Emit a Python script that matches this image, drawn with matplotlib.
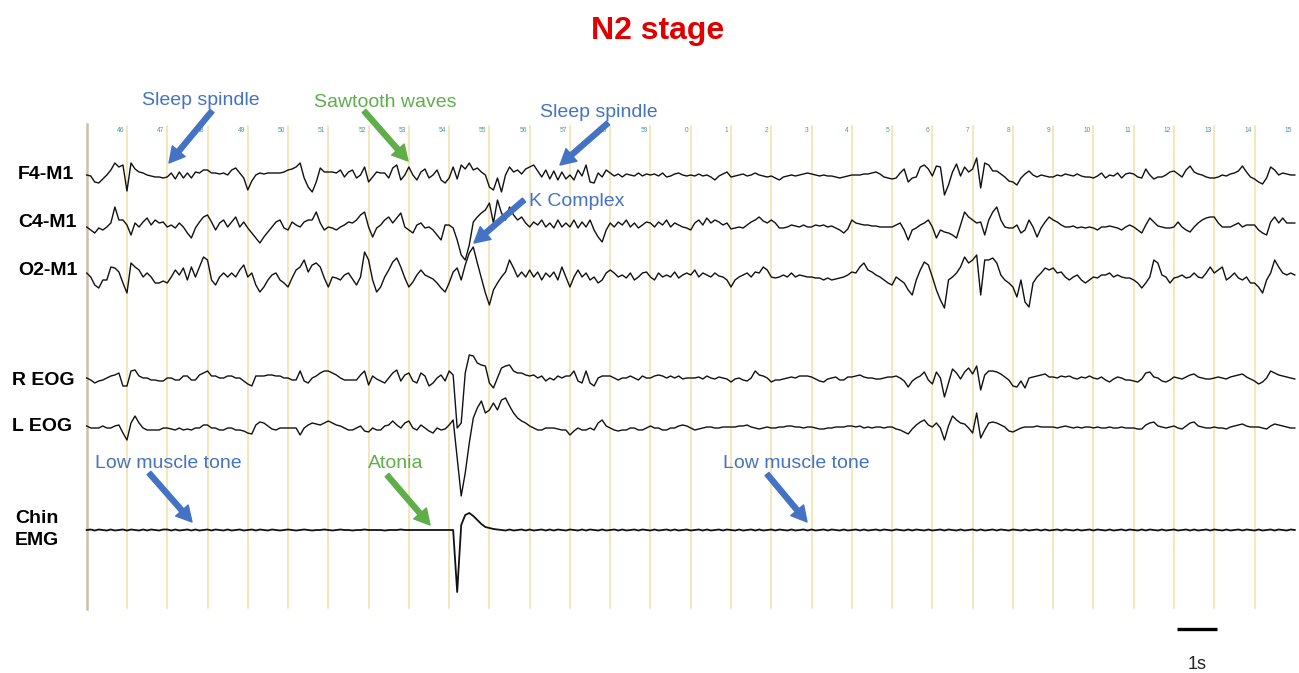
import numpy as np
import matplotlib
matplotlib.use("Agg")
import matplotlib.pyplot as plt

plt.rcParams['font.family'] = ['Liberation Sans', 'DejaVu Sans']

# recording window: seconds 45 .. 75, one value every 0.1 s
# trace values are deflections in screen pixels (positive = up)
T_START = 45.0
T_STEP = 0.1

F4_M1 = [
    0, -1, -7, -8, -4, 0, 5, 12, 8, 10,
    -16, 12, 6, 3, 2, 0, -1, -2, -2, -3,
    -2, 2, -4, 3, -3, 2, -3, 3, 2, 5,
    5, 2, 2, 1, 2, 0, 5, 7, 2, -3,
    -15, -6, 0, 2, 1, 2, 2, 2, 2, 3,
    5, 6, 8, 12, -3, -12, -17, -7, 7, 3,
    3, 3, 2, 5, -2, 3, 5, -3, 0, 8,
    -7, -2, 3, 2, 2, -3, 7, 10, -5, 0,
    8, 0, -5, 3, 6, -3, 0, 5, -5, -8,
    -3, 8, -4, 10, 6, 12, 5, 7, 3, 0,
    -12, -15, -3, -17, 0, 8, 3, 5, 1, 6,
    8, 10, 4, -2, 5, -4, 4, -5, 3, -4,
    0, -5, 5, -1, 10, -7, -8, 2, -2, 5,
    2, -1, 1, -2, 1, 0, -1, 2, -1, 1,
    0, 1, -1, 2, -2, -1, 1, 2, 0, -1,
    0, -1, 1, -1, 0, -2, -5, -1, 1, 3,
    -2, -1, 0, 1, -1, 0, 2, 0, -1, -2,
    -1, -3, -5, -2, -1, 0, -1, 0, 1, 2,
    1, 0, -1, 0, -1, -1, -2, -3, -2, -1,
    0, 0, 0, 1, 1, 2, 3, 1, -2, -3,
    -4, -3, 2, 6, -7, -3, -2, 8, 10, 6,
    -1, 9, 8, -20, -10, 3, 11, -1, 8, 3,
    6, 17, -13, 12, 10, 4, 4, 1, -2, -6,
    -7, -10, -3, 1, 4, 0, -2, 0, -1, -2,
    -2, 0, -1, 1, 0, -1, 1, -1, -2, -2,
    -3, -1, 2, -3, 0, -1, 2, -3, 1, 2,
    1, -2, -3, 6, 0, -4, -2, -2, 0, 3,
    4, 1, -2, 5, 9, 3, 1, 0, -2, -3,
    -3, -2, 0, -1, 1, 2, 4, 9, 3, -2,
    -4, -7, -9, -3, 8, 5, 0, 2, 1, 0,
    0,
]

C4_M1 = [
    -2, -5, -8, -3, -5, -2, 2, 18, 5, 5,
    0, -10, 2, -2, 3, 7, 0, 5, 2, 3,
    -2, 0, -3, 2, -2, -8, -13, -3, 3, 8,
    10, 3, -5, 2, 5, -2, 3, 8, -2, 3,
    -3, -8, -13, -18, -12, -7, -2, 3, 5, -3,
    -5, 3, 0, -2, 3, 5, 5, 13, 2, -5,
    -2, -3, -5, -2, 0, 3, 2, 5, 10, 13,
    -2, -12, -3, 0, 5, 8, 2, 7, 12, -2,
    -5, -8, 0, 2, -3, -2, -5, -10, -15, 0,
    0, -3, -15, -30, -35, -20, 3, 8, 12, 15,
    22, 2, 25, 12, 5, 18, 10, 5, 8, 2,
    -2, 3, 0, 5, -2, 2, -3, 5, -2, 2,
    -2, 5, -3, 3, -2, 5, -5, -12, -17, -5,
    2, -2, 3, 0, 5, -2, 2, -3, 0, 3,
    2, -2, 3, 0, 5, -2, 2, 0, -2, -3,
    -5, 2, 5, 0, 7, 2, 5, 3, 0, 2,
    -4, -3, -2, -3, 0, 3, 5, 8, 4, 2,
    5, 2, -3, -3, -2, 0, -1, -2, 0, -2,
    -2, 0, -1, 0, -2, -1, -3, -5, -8, -4,
    5, 2, 1, 0, 0, -1, -1, -2, -2, -2,
    -2, 0, 2, -5, -15, -5, -3, 0, 2, 5,
    -2, -13, -5, -7, -8, -10, -13, 0, 13, 8,
    5, 2, 3, -10, 5, 13, 18, 5, -2, -3,
    -3, 0, -8, -5, 5, -2, -12, -3, 3, 8,
    5, 3, 0, -2, -2, -1, -3, -2, -3, -2,
    -3, -5, -2, -2, -1, -2, -3, -5, -2, 0,
    -2, -5, -8, 0, 7, 3, -1, -2, -3, -3,
    -2, 3, -2, -5, -7, -2, 2, 5, 7, 8,
    8, 2, -2, -2, -2, 0, 2, -2, 0, 0,
    0, -5, -8, -10, 3, 8, 2, 7, 2, 2,
    2,
]

O2_M1 = [
    2, -2, -10, -13, -5, -5, 8, 7, 3, -8,
    -18, 12, 8, 5, -2, 2, -2, -8, -8, -6,
    -8, -2, 5, 0, 7, -5, 8, -2, 8, 18,
    15, -5, -10, -2, 2, -2, 2, -2, 5, 10,
    -2, 2, -10, -17, -12, -5, 0, 2, -5, -8,
    -12, -3, 5, 8, 15, 3, 10, 12, 8, -3,
    -12, -2, -3, -5, 0, 2, -4, -10, -2, 23,
    15, -5, -17, -12, -2, 5, 13, 17, 8, -3,
    -12, -7, 0, 5, 0, -2, -4, -8, -13, -17,
    -8, 3, 7, -5, 10, 22, 28, 12, -3, -18,
    -30, -15, -8, -2, 3, 15, 7, -2, 3, -2,
    5, -2, 3, -5, 2, -2, 3, -5, 8, -2,
    -12, -2, 5, -2, 2, -5, -2, -8, -5, 2,
    5, 2, -2, 0, -3, 2, -5, -2, 2, 3,
    -2, -5, 2, -2, 0, -2, 3, -3, 0, 2,
    0, 5, -2, 2, 0, -2, 2, -1, -2, -5,
    -12, -5, -2, 0, 2, -2, 3, 2, 8, 5,
    -2, -3, -2, 0, -2, 2, -2, 0, -1, -2,
    -2, -3, -3, -5, -3, -5, -4, -3, -2, 0,
    3, 2, 8, 12, 5, 3, 0, -2, -5, -8,
    -10, -2, -5, -8, -15, -20, -5, 5, 13, 10,
    -2, -15, -25, -33, -5, -2, 2, 8, 18, 12,
    15, 20, -20, 15, 15, 17, 12, 0, -5, -8,
    -12, -22, -5, -27, -32, -8, -2, 2, 7, 5,
    7, 2, 3, -2, -5, -2, 0, -5, -8, -5,
    -2, -3, 0, 0, 2, -2, 0, -2, -3, -3,
    -5, -8, -13, -8, -2, 15, 12, 0, -2, -8,
    -3, -2, 0, -3, -2, 2, -2, -3, 2, 8,
    2, 5, 8, -5, -2, 2, -3, -5, -2, -8,
    -8, -12, -18, -5, 2, 15, 8, 2, 0, 2,
    0,
]

R_EOG = [
    0, -2, -5, -3, -2, 0, 2, 3, 5, -8,
    -8, 7, 8, 2, 0, 0, -2, -2, -3, -3,
    0, 0, -2, -2, 2, 2, -2, -2, 3, 5,
    7, 2, 2, 0, 0, 2, 2, 0, 0, -3,
    -6, -8, 2, 2, 2, 3, 3, 2, 2, 0,
    0, -2, -2, 7, -3, -5, 0, 2, 5, 7,
    7, 5, 3, 0, -2, -2, -2, -2, 3, 7,
    -7, 2, -1, -3, -5, 0, 5, 8, -3, 3,
    5, -3, -5, 5, 2, -8, -5, 0, 3, -3,
    7, 3, -50, -45, 5, 23, 22, 15, 13, 12,
    -5, -10, 0, 10, 12, 13, 7, 5, 5, 3,
    2, 3, 0, 2, -3, 0, -2, 2, 0, 2,
    2, 7, -3, -5, 7, -5, -8, 0, 2, 2,
    2, 0, -2, 0, 0, 2, 0, -2, 2, 0,
    0, 2, 3, 2, 0, 2, 0, 2, -1, 0,
    0, 0, 1, -1, 2, 0, -1, 1, 0, -1,
    -4, -1, 0, -2, -3, 0, 7, 3, 2, 0,
    -4, -2, -2, -1, 0, 1, 0, 2, 2, 2,
    1, -1, -3, -4, -1, 0, 1, -2, -2, 1,
    1, 2, 3, 1, 0, 0, -1, -1, 0, 1,
    1, 2, 0, -3, -9, -3, 0, 2, 6, -2,
    -6, 6, 0, -19, -5, 9, 5, -1, 6, 10,
    4, 12, -12, 3, 7, 7, 6, 4, 1, -2,
    -8, -9, -3, -10, 0, 1, 2, 3, 4, 1,
    1, 0, 2, 1, 2, 0, -1, 1, 0, 2,
    0, -1, 1, -2, -4, -1, 1, 0, -2, -2,
    -3, -4, -1, 5, 6, 1, 0, -3, -4, -2,
    1, 0, -1, 1, 3, 4, 1, 0, -1, -1,
    0, 1, 0, -1, 1, 2, 3, 4, 1, -1,
    -3, -6, -4, 0, 7, 5, 3, 2, 1, 0,
    -1,
]

L_EOG = [
    2, 0, 0, 0, 2, 0, 0, 2, 3, -5,
    -12, 5, 12, 5, 0, -2, -2, -2, -2, 0,
    0, -1, -2, 0, -2, -1, -2, 0, 0, 3,
    3, 0, 0, -2, -2, 0, 0, -2, -2, -3,
    -5, -6, 3, 6, 5, 2, -1, -2, 0, 0,
    0, 0, 0, -7, 0, 3, 5, 4, 3, 5,
    7, 5, 3, 2, 0, -2, -2, 0, 2, -3,
    -4, 0, -2, -2, 2, 3, 7, 3, 0, 5,
    7, 0, -2, 3, 0, -3, -5, 0, -2, -1,
    3, 8, -30, -68, -45, -15, 10, 20, 27, 15,
    18, 25, 18, 28, 30, 22, 15, 10, 7, 5,
    2, 0, -2, -2, 0, 0, 0, -1, -2, -2,
    -7, -3, 0, -2, -2, 0, -2, 5, 8, 2,
    0, -2, -3, -2, -2, 0, 0, -2, -2, 0,
    2, 0, 0, -2, -2, 0, 0, 2, 3, 2,
    0, -2, -1, 0, 1, 1, 0, 0, 1, 1,
    1, 1, 2, 2, 3, 1, 0, -1, 0, 1,
    0, 0, 1, 1, 2, 2, 1, 1, 0, 1,
    1, 0, -1, -1, 0, 0, 1, 1, 1, 2,
    2, 1, 2, 0, 1, 0, 1, 1, 0, 1,
    1, -1, -2, -4, -6, -1, 3, 6, 8, 3,
    1, 5, 0, -12, 2, 12, 8, 5, 4, 0,
    -5, 15, -10, -2, 5, 6, 5, 3, 1, -3,
    -4, -2, 0, 1, 1, 1, 2, 1, 1, 1,
    1, 0, 1, 2, 1, 0, 1, 0, 1, 1,
    0, 1, 0, 0, 1, 0, 0, 1, 0, 0,
    0, -1, -1, 3, 5, 6, 2, 1, 0, 1,
    2, 0, -1, 2, 5, 6, 2, 1, 0, 0,
    1, 0, 0, -1, 1, 2, 3, 4, 2, 1,
    1, 1, 0, -1, 2, 4, 3, 2, 1, 0,
    0,
]

CHIN_EMG = [
    0, .5, -.5, .5, 0, -.5, .5, -.5, 0, .5,
    -.5, .5, 0, -.5, .5, -.5, .5, 0, -.5, .5,
    .5, -.5, .5, -.5, 0, .5, -.5, .5, -.5, 0,
    .5, -.5, .5, 0, -.5, .5, -.5, 0, .5, -.5,
    0, .5, -.5, .5, 0, -.5, .5, 0, -.5, 0,
    .5, 0, -.5, 0, .5, 0, -.5, 0, 0, .5,
    0, -.5, 0, .5, 0, 0, -.5, 0, 0, .5,
    0, 0, 0, 0, -.5, 0, 0, 0, .5, 0,
    0, 0, 0, 0, 0, 0, 0, 0, 0, 0,
    0, 0, -62, 5, 15, 17, 14, 10, 6, 3,
    2, 1, .5, 0, -.5, .5, -.5, 0, .5, -.5,
    .5, -.5, 0, .5, -.5, .5, -.5, .5, 0, -.5,
    .5, 0, -.5, .5, -.5, .5, 0, -.5, .5, -.5,
    0, .5, -.5, .5, -.5, 0, .5, -.5, .5, 0,
    -.5, .5, -.5, 0, .5, -.5, .5, -.5, 0, .5,
    -.5, 0, .5, -.5, .5, -.5, 0, .5, -.5, .5,
    0, -.5, .5, -.5, 0, .5, -.5, .5, -.5, 0,
    .5, -.5, .5, 0, -.5, .5, -.5, 0, .5, -.5,
    .5, -.5, 0, .5, -.5, .5, 0, -.5, .5, -.5,
    0, .5, -.5, .5, -.5, 0, .5, -.5, .5, 0,
    -.5, .5, 0, -.5, .5, -.5, .5, 0, -.5, .5,
    -.5, 0, .5, -.5, .5, 0, -.5, .5, -.5, 0,
    .5, -.5, .5, -.5, 0, .5, -.5, .5, 0, -.5,
    .5, 0, -.5, .5, -.5, 0, .5, -.5, .5, -.5,
    0, .5, -.5, .5, 0, -.5, .5, -.5, 0, .5,
    -.5, .5, 0, -.5, .5, -.5, 0, .5, -.5, .5,
    0, -.5, .5, -.5, .5, 0, -.5, .5, -.5, 0,
    .5, -.5, 0, .5, -.5, .5, -.5, 0, .5, -.5,
    .5, 0, -.5, .5, -.5, 0, .5, -.5, .5, 0,
    -.5, .5, -.5, 0, .5, -.5, .5, 0, -.5, .5,
    0,
]

CHANNELS = ["F4-M1", "C4-M1", "O2-M1", "R EOG", "L EOG", "Chin\nEMG"]
TRACES = [F4_M1, C4_M1, O2_M1, R_EOG, L_EOG, CHIN_EMG]

SECOND_MARKS = list(range(46, 76))
SECOND_LABELS = ["46", "47", "48", "49", "50", "51", "52", "53", "54", "55",
                 "56", "57", "58", "59", "0", "1", "2", "3", "4", "5",
                 "6", "7", "8", "9", "10", "11", "12", "13", "14", "15"]

# annotation texts with (text x, baseline y), arrow tail, arrow head in px
NOTES = [
    ("Sleep spindle", "blue", (142, 105), (212, 111), (169, 163)),
    ("Sawtooth waves", "green", (314, 107), (364, 111), (408, 161)),
    ("Sleep spindle", "blue", (540, 117), (608, 123), (560, 165)),
    ("K Complex", "blue", (529, 206), (524, 200), (474, 243)),
    ("Low muscle tone", "blue", (95, 468), (149, 473), (192, 522)),
    ("Atonia", "green", (368, 468), (387, 475), (430, 525)),
    ("Low muscle tone", "blue", (723, 468), (767, 474), (807, 522)),
]

# layout (screen pixels)
W, H = 1299, 673
PX_PER_SEC = 40.27
LEFT_PX = 86.7
BASELINES = [175, 225, 275, 378, 428, 530]
LABEL_POS = [(18, 179), (18, 227), (18, 275), (12, 385), (12, 431), (15, 523)]
COLORS = {"blue": "#4472c4", "green": "#5fae4a"}

fig = plt.figure(figsize=(W / 100, H / 100), dpi=100)
ax = fig.add_axes([0, 0, 1, 1])
ov = fig.add_axes([0, 0, 1, 1])
for a in (ax, ov):
    a.set_axis_off()
    a.patch.set_alpha(0)

t_left = T_START - LEFT_PX / PX_PER_SEC
t_right = T_START + (W - LEFT_PX) / PX_PER_SEC
ax.set_xlim(t_left, t_right)
ax.set_ylim(H, 0)
ov.set_xlim(0, W)
ov.set_ylim(H, 0)

# grid of seconds
for s, lab in zip(SECOND_MARKS, SECOND_LABELS):
    if s < 75:
        ax.plot([s, s], [126, 608], color="#f2e0a4", lw=1.1, zorder=1)
    ax.text(s - 0.07, 131, lab, ha="right", va="center", fontsize=4.8,
            color="#4f9898", zorder=2)
ax.plot([T_START, T_START], [124, 609], color="#cdbfa3", lw=1.8, zorder=1)

# traces
for vals, base in zip(TRACES, BASELINES):
    v = np.asarray(vals, dtype=float)
    t = T_START + T_STEP * np.arange(len(v))
    lw = 1.0 if base != 530 else 1.3
    ax.plot(t, base - v, color="#111111", lw=lw, zorder=3)

# channel labels
for name, (x, y) in zip(CHANNELS, LABEL_POS):
    lines = name.split("\n")
    for i, ln in enumerate(lines):
        ov.text(x, y + i * 22, ln, ha="left", va="baseline", fontsize=14,
                fontweight="bold", color="black")

# title
ov.text(658, 39, "N2 stage", ha="center", va="baseline", fontsize=23,
        fontweight="bold", color="#e00000")

# annotations
for text, col, (tx, ty), tail, head in NOTES:
    c = COLORS[col]
    ov.text(tx, ty, text, ha="left", va="baseline", fontsize=14, color=c)
    ov.annotate("", xy=head, xytext=tail,
                arrowprops=dict(facecolor=c, edgecolor=c, width=3.6,
                                headwidth=12, headlength=11, shrink=0))

# 1 s scale bar
bar_start = 72.07
ax.plot([bar_start, bar_start + 1], [629, 629], color="black", lw=2.4,
        solid_capstyle="butt")
ax.text(bar_start + 0.5, 669, "1s", ha="center", va="baseline", fontsize=13,
        color="#222222")

fig.savefig("out.png", dpi=100)
